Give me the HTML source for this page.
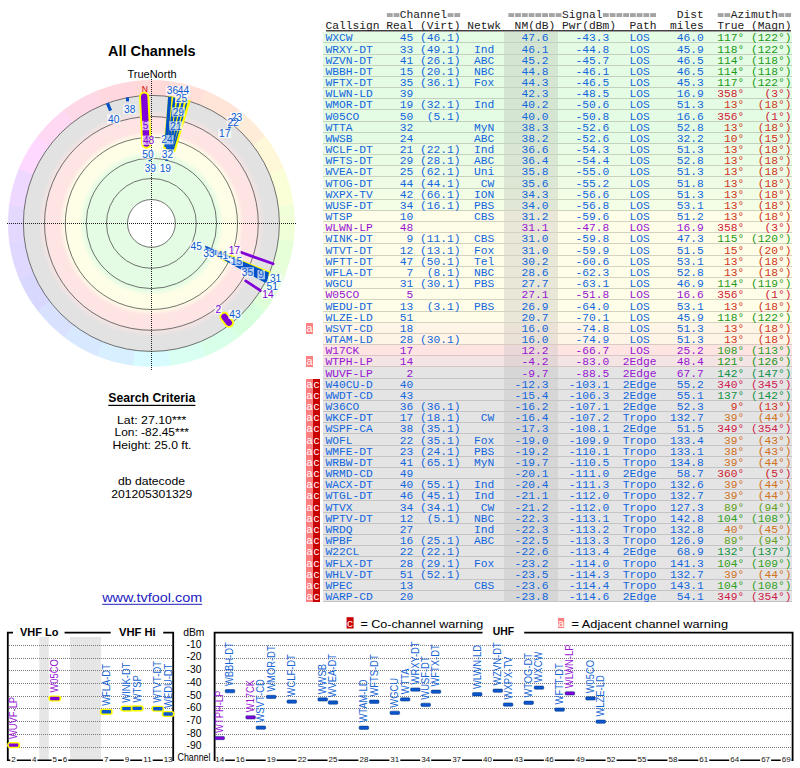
<!DOCTYPE html>
<html><head><meta charset="utf-8"><style>
html,body{margin:0;padding:0;background:#fff;width:800px;height:768px;overflow:hidden}
svg{position:absolute;left:0;top:0}
</style></head><body>
<svg width="800" height="768" viewBox="0 0 800 768">
<path d="M151.4,223.4 L132.71,81.43 A143.2,143.2 0 0 1 170.09,81.43 Z" fill="#ffd8d8" stroke="#ffd8d8" stroke-width="0.6"/>
<path d="M151.4,223.4 L170.09,81.43 A143.2,143.2 0 0 1 206.20,91.10 Z" fill="#ffdfd8" stroke="#ffdfd8" stroke-width="0.6"/>
<path d="M151.4,223.4 L206.20,91.10 A143.2,143.2 0 0 1 238.57,109.79 Z" fill="#ffe5d8" stroke="#ffe5d8" stroke-width="0.6"/>
<path d="M151.4,223.4 L238.57,109.79 A143.2,143.2 0 0 1 265.01,136.23 Z" fill="#ffecd8" stroke="#ffecd8" stroke-width="0.6"/>
<path d="M151.4,223.4 L265.01,136.23 A143.2,143.2 0 0 1 283.70,168.60 Z" fill="#fff8d8" stroke="#fff8d8" stroke-width="0.6"/>
<path d="M151.4,223.4 L283.70,168.60 A143.2,143.2 0 0 1 293.37,204.71 Z" fill="#faffd8" stroke="#faffd8" stroke-width="0.6"/>
<path d="M151.4,223.4 L293.37,204.71 A143.2,143.2 0 0 1 293.37,242.09 Z" fill="#f0ffd8" stroke="#f0ffd8" stroke-width="0.6"/>
<path d="M151.4,223.4 L293.37,242.09 A143.2,143.2 0 0 1 283.70,278.20 Z" fill="#e6ffd8" stroke="#e6ffd8" stroke-width="0.6"/>
<path d="M151.4,223.4 L283.70,278.20 A143.2,143.2 0 0 1 265.01,310.57 Z" fill="#dfffd8" stroke="#dfffd8" stroke-width="0.6"/>
<path d="M151.4,223.4 L265.01,310.57 A143.2,143.2 0 0 1 238.57,337.01 Z" fill="#d8ffdd" stroke="#d8ffdd" stroke-width="0.6"/>
<path d="M151.4,223.4 L238.57,337.01 A143.2,143.2 0 0 1 206.20,355.70 Z" fill="#d8ffe7" stroke="#d8ffe7" stroke-width="0.6"/>
<path d="M151.4,223.4 L206.20,355.70 A143.2,143.2 0 0 1 170.09,365.37 Z" fill="#d8fff2" stroke="#d8fff2" stroke-width="0.6"/>
<path d="M151.4,223.4 L170.09,365.37 A143.2,143.2 0 0 1 132.71,365.37 Z" fill="#d8fbff" stroke="#d8fbff" stroke-width="0.6"/>
<path d="M151.4,223.4 L132.71,365.37 A143.2,143.2 0 0 1 96.60,355.70 Z" fill="#d8efff" stroke="#d8efff" stroke-width="0.6"/>
<path d="M151.4,223.4 L96.60,355.70 A143.2,143.2 0 0 1 64.23,337.01 Z" fill="#d8e8ff" stroke="#d8e8ff" stroke-width="0.6"/>
<path d="M151.4,223.4 L64.23,337.01 A143.2,143.2 0 0 1 37.79,310.57 Z" fill="#d8e2ff" stroke="#d8e2ff" stroke-width="0.6"/>
<path d="M151.4,223.4 L37.79,310.57 A143.2,143.2 0 0 1 19.10,278.20 Z" fill="#d8d8ff" stroke="#d8d8ff" stroke-width="0.6"/>
<path d="M151.4,223.4 L19.10,278.20 A143.2,143.2 0 0 1 9.43,242.09 Z" fill="#e0d8ff" stroke="#e0d8ff" stroke-width="0.6"/>
<path d="M151.4,223.4 L9.43,242.09 A143.2,143.2 0 0 1 9.43,204.71 Z" fill="#e5d8ff" stroke="#e5d8ff" stroke-width="0.6"/>
<path d="M151.4,223.4 L9.43,204.71 A143.2,143.2 0 0 1 19.10,168.60 Z" fill="#efd8ff" stroke="#efd8ff" stroke-width="0.6"/>
<path d="M151.4,223.4 L19.10,168.60 A143.2,143.2 0 0 1 37.79,136.23 Z" fill="#ffd8ff" stroke="#ffd8ff" stroke-width="0.6"/>
<path d="M151.4,223.4 L37.79,136.23 A143.2,143.2 0 0 1 64.23,109.79 Z" fill="#ffd8f3" stroke="#ffd8f3" stroke-width="0.6"/>
<path d="M151.4,223.4 L64.23,109.79 A143.2,143.2 0 0 1 96.60,91.10 Z" fill="#ffd8e8" stroke="#ffd8e8" stroke-width="0.6"/>
<path d="M151.4,223.4 L96.60,91.10 A143.2,143.2 0 0 1 132.71,81.43 Z" fill="#ffd8df" stroke="#ffd8df" stroke-width="0.6"/>
<defs><radialGradient id="bands" cx="151.4" cy="223.4" r="128" gradientUnits="userSpaceOnUse">
<stop offset="0" stop-color="#e4fce4"/>
<stop offset="0.52" stop-color="#e4fce4"/>
<stop offset="0.565" stop-color="#fefee6"/>
<stop offset="0.67" stop-color="#fefee6"/>
<stop offset="0.72" stop-color="#ffe4e4"/>
<stop offset="0.815" stop-color="#ffe4e4"/>
<stop offset="0.885" stop-color="#e2e2e2"/>
<stop offset="1" stop-color="#e2e2e2"/>
</radialGradient></defs>
<circle cx="151.4" cy="223.4" r="128.0" fill="url(#bands)"/>
<circle cx="151.4" cy="223.4" r="23.9" fill="#ffffff"/>
<circle cx="151.4" cy="223.4" r="23.9" fill="none" stroke="#505050" stroke-width="0.8"/>
<circle cx="151.4" cy="223.4" r="44.9" fill="none" stroke="#505050" stroke-width="0.8"/>
<circle cx="151.4" cy="223.4" r="65.2" fill="none" stroke="#505050" stroke-width="0.8"/>
<circle cx="151.4" cy="223.4" r="86.1" fill="none" stroke="#505050" stroke-width="0.8"/>
<circle cx="151.4" cy="223.4" r="106.9" fill="none" stroke="#505050" stroke-width="0.8"/>
<circle cx="151.4" cy="223.4" r="128.0" fill="none" stroke="#505050" stroke-width="0.8"/>
<line x1="7" y1="223.5" x2="297" y2="223.5" stroke="#202020" stroke-width="1" stroke-dasharray="1,1"/>
<line x1="151.5" y1="79" x2="151.5" y2="370" stroke="#202020" stroke-width="1" stroke-dasharray="1,1"/>
<line x1="144.2" y1="96.8" x2="146.4" y2="143.6" stroke="#ffff00" stroke-width="10.2" stroke-linecap="round"/>
<line x1="144.2" y1="96.8" x2="146.4" y2="143.6" stroke="#8000d8" stroke-width="6.4" stroke-linecap="round"/>
<polygon points="168.2,95.8 190.8,100.2 175.2,152.2 163.2,148.2" fill="#ffff00"/>
<line x1="169.8" y1="96.6" x2="166.0" y2="147.0" stroke="#0050c8" stroke-width="3.4"/>
<line x1="174.6" y1="97.5" x2="168.0" y2="148.5" stroke="#0050c8" stroke-width="2.6"/>
<line x1="179.0" y1="98.5" x2="169.8" y2="149.3" stroke="#0050c8" stroke-width="2.4"/>
<line x1="183.4" y1="99.4" x2="171.4" y2="150.2" stroke="#0050c8" stroke-width="2.2"/>
<line x1="187.4" y1="100.2" x2="172.8" y2="151.0" stroke="#0050c8" stroke-width="1.4"/>
<circle cx="168.6" cy="146.8" r="3" fill="#0a5ad2"/>
<line x1="107.4" y1="103.2" x2="110.6" y2="110.6" stroke="#0050c8" stroke-width="3.2"/>
<line x1="127.5" y1="97.4" x2="127.5" y2="101.4" stroke="#0050c8" stroke-width="3"/>
<line x1="229.4" y1="126.6" x2="229.6" y2="128.4" stroke="#0050c8" stroke-width="2.4"/>
<line x1="149.6" y1="159.8" x2="150" y2="161.2" stroke="#0050c8" stroke-width="2.4"/>
<line x1="166.6" y1="159.5" x2="166.6" y2="161" stroke="#0050c8" stroke-width="2.4"/>
<line x1="219.6" y1="254.6" x2="238" y2="262.2" stroke="#ffff00" stroke-width="8.4" stroke-linecap="round"/>
<polygon points="232,256.2 270.4,271.6 269.6,276 233,260" fill="#ffff00"/>
<polygon points="205,245.6 269,272.6 266.6,283.6 230,263.6 206,249.4" fill="#0050c8"/>
<line x1="218.6" y1="255.2" x2="232" y2="260.6" stroke="#e8f0f8" stroke-width="3.2" stroke-linecap="round"/>
<line x1="240.9" y1="252.3" x2="273.1" y2="263.7" stroke="#8000d8" stroke-width="2.8" stroke-linecap="round"/>
<line x1="245.7" y1="280.9" x2="260.7" y2="290.7" stroke="#8000d8" stroke-width="2.8" stroke-linecap="round"/>
<line x1="224.4" y1="316.8" x2="229.0" y2="322.8" stroke="#ffff00" stroke-width="10" stroke-linecap="round"/>
<line x1="224.4" y1="316.8" x2="229.0" y2="322.8" stroke="#8000d8" stroke-width="6.2" stroke-linecap="round"/>
<rect x="107.13" y="114.50" width="13.14" height="9.3" fill="#ffffff" fill-opacity="0.7"/>
<rect x="123.13" y="104.50" width="13.14" height="9.3" fill="#ffffff" fill-opacity="0.7"/>
<rect x="141.96" y="120.90" width="7.47" height="9.3" fill="#ffffff" fill-opacity="0.7"/>
<rect x="142.03" y="135.60" width="13.14" height="9.3" fill="#ffffff" fill-opacity="0.7"/>
<rect x="141.43" y="149.40" width="13.14" height="9.3" fill="#ffffff" fill-opacity="0.7"/>
<rect x="143.73" y="163.70" width="13.14" height="9.3" fill="#ffffff" fill-opacity="0.7"/>
<rect x="158.73" y="163.70" width="13.14" height="9.3" fill="#ffffff" fill-opacity="0.7"/>
<rect x="160.93" y="149.40" width="13.14" height="9.3" fill="#ffffff" fill-opacity="0.7"/>
<rect x="160.33" y="135.10" width="13.14" height="9.3" fill="#ffffff" fill-opacity="0.7"/>
<rect x="169.43" y="121.30" width="13.14" height="9.3" fill="#ffffff" fill-opacity="0.7"/>
<rect x="171.73" y="107.30" width="13.14" height="9.3" fill="#ffffff" fill-opacity="0.7"/>
<rect x="165.93" y="85.90" width="13.14" height="9.3" fill="#ffffff" fill-opacity="0.7"/>
<rect x="176.93" y="85.90" width="13.14" height="9.3" fill="#ffffff" fill-opacity="0.7"/>
<rect x="174.93" y="93.80" width="13.14" height="9.3" fill="#ffffff" fill-opacity="0.7"/>
<rect x="230.03" y="112.20" width="13.14" height="9.3" fill="#ffffff" fill-opacity="0.7"/>
<rect x="226.53" y="117.20" width="13.14" height="9.3" fill="#ffffff" fill-opacity="0.7"/>
<rect x="218.13" y="128.70" width="13.14" height="9.3" fill="#ffffff" fill-opacity="0.7"/>
<rect x="189.63" y="241.50" width="13.14" height="9.3" fill="#ffffff" fill-opacity="0.7"/>
<rect x="202.33" y="248.70" width="13.14" height="9.3" fill="#ffffff" fill-opacity="0.7"/>
<rect x="216.03" y="250.70" width="13.14" height="9.3" fill="#ffffff" fill-opacity="0.7"/>
<rect x="229.83" y="256.70" width="13.14" height="9.3" fill="#ffffff" fill-opacity="0.7"/>
<rect x="240.83" y="267.30" width="13.14" height="9.3" fill="#ffffff" fill-opacity="0.7"/>
<rect x="257.47" y="270.00" width="7.47" height="9.3" fill="#ffffff" fill-opacity="0.7"/>
<rect x="269.03" y="274.10" width="13.14" height="9.3" fill="#ffffff" fill-opacity="0.7"/>
<rect x="265.63" y="281.70" width="13.14" height="9.3" fill="#ffffff" fill-opacity="0.7"/>
<rect x="261.43" y="289.30" width="13.14" height="9.3" fill="#ffffff" fill-opacity="0.7"/>
<rect x="227.73" y="245.90" width="13.14" height="9.3" fill="#ffffff" fill-opacity="0.7"/>
<rect x="214.66" y="305.00" width="7.47" height="9.3" fill="#ffffff" fill-opacity="0.7"/>
<rect x="228.43" y="309.80" width="13.14" height="9.3" fill="#ffffff" fill-opacity="0.7"/>
<g font-family="Liberation Sans, sans-serif" font-size="10.2" text-anchor="middle"><text x="113.7" y="122.8" fill="#0a5ad2">40</text><text x="129.7" y="112.8" fill="#0a5ad2">38</text><text x="145.7" y="129.2" fill="#8000d8">5</text><text x="148.6" y="143.9" fill="#8000d8">48</text><text x="148.0" y="157.7" fill="#0a5ad2">50</text><text x="150.3" y="172.0" fill="#0a5ad2">39</text><text x="165.3" y="172.0" fill="#0a5ad2">19</text><text x="167.5" y="157.7" fill="#0a5ad2">32</text><text x="166.9" y="143.4" fill="#0a5ad2">24</text><text x="176.0" y="129.6" fill="#0a5ad2">21</text><text x="178.3" y="115.6" fill="#0a5ad2">29</text><text x="172.5" y="94.2" fill="#0a5ad2">36</text><text x="183.5" y="94.2" fill="#0a5ad2">44</text><text x="181.5" y="102.1" fill="#0a5ad2">25</text><text x="236.6" y="120.5" fill="#0a5ad2">23</text><text x="233.1" y="125.5" fill="#0a5ad2">22</text><text x="224.7" y="137.0" fill="#0a5ad2">17</text><text x="196.2" y="249.8" fill="#0a5ad2">45</text><text x="208.9" y="257.0" fill="#0a5ad2">33</text><text x="222.6" y="259.0" fill="#0a5ad2">41</text><text x="236.4" y="265.0" fill="#0a5ad2">15</text><text x="247.4" y="275.6" fill="#0a5ad2">35</text><text x="261.2" y="278.3" fill="#0a5ad2">9</text><text x="275.6" y="282.4" fill="#0a5ad2">31</text><text x="272.2" y="290.0" fill="#0a5ad2">51</text><text x="268.0" y="297.6" fill="#8000d8">14</text><text x="234.3" y="254.2" fill="#8000d8">17</text><text x="218.4" y="313.3" fill="#8000d8">2</text><text x="235.0" y="318.1" fill="#0a5ad2">43</text></g>
<text x="144.7" y="92.4" fill="#d00000" font-family="Liberation Sans, sans-serif" font-size="8.5" text-anchor="middle">N</text>
<text x="151.8" y="55.5" font-family="Liberation Sans, sans-serif" font-weight="bold" font-size="14" text-anchor="middle" fill="#000" textLength="87.7" lengthAdjust="spacingAndGlyphs">All Channels</text>
<text x="152" y="77.7" font-family="Liberation Sans, sans-serif" font-size="10.5" text-anchor="middle" fill="#000" textLength="49.2" lengthAdjust="spacingAndGlyphs">TrueNorth</text>
<g font-family="Liberation Sans, sans-serif" text-anchor="middle" fill="#000">
<text x="151.75" y="402" font-weight="bold" font-size="12" textLength="86.9" lengthAdjust="spacingAndGlyphs">Search Criteria</text>
<rect x="108.3" y="404.8" width="87" height="1.2" fill="#000"/>
<text x="151.7" y="423.5" font-size="11.2" textLength="69.4" lengthAdjust="spacingAndGlyphs">Lat: 27.10***</text>
<text x="151.75" y="436.2" font-size="11.2" textLength="74.5" lengthAdjust="spacingAndGlyphs">Lon: -82.45***</text>
<text x="152" y="448.6" font-size="11.2" textLength="79" lengthAdjust="spacingAndGlyphs">Height: 25.0 ft.</text>
<text x="151.5" y="485" font-size="11.2" textLength="67" lengthAdjust="spacingAndGlyphs">db datecode</text>
<text x="151.8" y="497.6" font-size="11.2" textLength="81.2" lengthAdjust="spacingAndGlyphs">201205301329</text>
</g>
<text x="152.2" y="602" font-family="Liberation Sans, sans-serif" font-size="12.5" text-anchor="middle" fill="#2222c0" textLength="100" lengthAdjust="spacingAndGlyphs">www.tvfool.com</text>
<rect x="102.2" y="603.8" width="100" height="1" fill="#2222c0"/>
<rect x="323" y="32" width="469" height="10" fill="#e4fce4"/>
<rect x="504" y="32" width="54" height="10" fill="#d4e6d2"/>
<rect x="323" y="42" width="469" height="1" fill="#c2d2be"/>
<rect x="323" y="43" width="469" height="11" fill="#e4fce4"/>
<rect x="504" y="43" width="54" height="11" fill="#d4e6d2"/>
<rect x="323" y="54" width="469" height="1" fill="#c2d2be"/>
<rect x="323" y="55" width="469" height="10" fill="#e4fce4"/>
<rect x="504" y="55" width="54" height="10" fill="#d4e6d2"/>
<rect x="323" y="65" width="469" height="1" fill="#c2d2be"/>
<rect x="323" y="66" width="469" height="10" fill="#e4fce4"/>
<rect x="504" y="66" width="54" height="10" fill="#d4e6d2"/>
<rect x="323" y="76" width="469" height="1" fill="#c2d2be"/>
<rect x="323" y="77" width="469" height="10" fill="#e4fce4"/>
<rect x="504" y="77" width="54" height="10" fill="#d4e6d2"/>
<rect x="323" y="87" width="469" height="1" fill="#c2d2be"/>
<rect x="323" y="88" width="469" height="10" fill="#e4fce4"/>
<rect x="504" y="88" width="54" height="10" fill="#d4e6d2"/>
<rect x="323" y="98" width="469" height="1" fill="#c2d2be"/>
<rect x="323" y="99" width="469" height="10" fill="#e4fce4"/>
<rect x="504" y="99" width="54" height="10" fill="#d4e6d2"/>
<rect x="323" y="109" width="469" height="1" fill="#c2d2be"/>
<rect x="323" y="110" width="469" height="11" fill="#e4fce4"/>
<rect x="504" y="110" width="54" height="11" fill="#d4e6d2"/>
<rect x="323" y="121" width="469" height="1" fill="#c2d2be"/>
<rect x="323" y="122" width="469" height="10" fill="#e4fce4"/>
<rect x="504" y="122" width="54" height="10" fill="#d4e6d2"/>
<rect x="323" y="132" width="469" height="1" fill="#c2d2be"/>
<rect x="323" y="133" width="469" height="10" fill="#e4fce4"/>
<rect x="504" y="133" width="54" height="10" fill="#d4e6d2"/>
<rect x="323" y="143" width="469" height="1" fill="#c2d2be"/>
<rect x="323" y="144" width="469" height="10" fill="#eafce5"/>
<rect x="504" y="144" width="54" height="10" fill="#d9e6d3"/>
<rect x="323" y="154" width="469" height="1" fill="#c6d2be"/>
<rect x="323" y="155" width="469" height="10" fill="#ebfce5"/>
<rect x="504" y="155" width="54" height="10" fill="#d9e6d4"/>
<rect x="323" y="165" width="469" height="1" fill="#c7d2bf"/>
<rect x="323" y="166" width="469" height="10" fill="#edfce5"/>
<rect x="504" y="166" width="54" height="10" fill="#dbe6d4"/>
<rect x="323" y="176" width="469" height="1" fill="#c8d2bf"/>
<rect x="323" y="177" width="469" height="11" fill="#eefce5"/>
<rect x="504" y="177" width="54" height="11" fill="#dbe6d4"/>
<rect x="323" y="188" width="469" height="1" fill="#c9d2bf"/>
<rect x="323" y="189" width="469" height="10" fill="#f2fde6"/>
<rect x="504" y="189" width="54" height="10" fill="#dfe7d5"/>
<rect x="323" y="199" width="469" height="1" fill="#ccd2bf"/>
<rect x="323" y="200" width="469" height="10" fill="#f4fde6"/>
<rect x="504" y="200" width="54" height="10" fill="#e0e7d6"/>
<rect x="323" y="210" width="469" height="1" fill="#cdd2bf"/>
<rect x="323" y="211" width="469" height="10" fill="#fefde8"/>
<rect x="504" y="211" width="54" height="10" fill="#e8e7d8"/>
<rect x="323" y="221" width="469" height="1" fill="#d4d2c0"/>
<rect x="323" y="222" width="469" height="10" fill="#fefde8"/>
<rect x="504" y="222" width="54" height="10" fill="#e8e7d8"/>
<rect x="323" y="232" width="469" height="1" fill="#d4d2c0"/>
<rect x="323" y="233" width="469" height="10" fill="#fefde8"/>
<rect x="504" y="233" width="54" height="10" fill="#e8e7d8"/>
<rect x="323" y="243" width="469" height="1" fill="#d4d2c0"/>
<rect x="323" y="244" width="469" height="11" fill="#fefde8"/>
<rect x="504" y="244" width="54" height="11" fill="#e8e7d8"/>
<rect x="323" y="255" width="469" height="1" fill="#d4d2c0"/>
<rect x="323" y="256" width="469" height="10" fill="#fefde8"/>
<rect x="504" y="256" width="54" height="10" fill="#e8e7d8"/>
<rect x="323" y="266" width="469" height="1" fill="#d4d2c0"/>
<rect x="323" y="267" width="469" height="10" fill="#fefde8"/>
<rect x="504" y="267" width="54" height="10" fill="#e8e7d8"/>
<rect x="323" y="277" width="469" height="1" fill="#d4d2c0"/>
<rect x="323" y="278" width="469" height="10" fill="#fefde8"/>
<rect x="504" y="278" width="54" height="10" fill="#e8e7d8"/>
<rect x="323" y="288" width="469" height="1" fill="#d4d2c0"/>
<rect x="323" y="289" width="469" height="10" fill="#fefde8"/>
<rect x="504" y="289" width="54" height="10" fill="#e8e7d8"/>
<rect x="323" y="299" width="469" height="1" fill="#d4d2c0"/>
<rect x="323" y="300" width="469" height="11" fill="#fefde8"/>
<rect x="504" y="300" width="54" height="11" fill="#e8e7d8"/>
<rect x="323" y="311" width="469" height="1" fill="#d4d2c0"/>
<rect x="323" y="312" width="469" height="10" fill="#fefde8"/>
<rect x="504" y="312" width="54" height="10" fill="#e8e7d8"/>
<rect x="323" y="322" width="469" height="1" fill="#d4d2c0"/>
<rect x="323" y="323" width="469" height="10" fill="#fff5e6"/>
<rect x="504" y="323" width="54" height="10" fill="#eae2d6"/>
<rect x="323" y="333" width="469" height="1" fill="#d8ccc0"/>
<rect x="306" y="323" width="7" height="11" fill="#ff8080"/>
<rect x="323" y="334" width="469" height="10" fill="#fff5e6"/>
<rect x="504" y="334" width="54" height="10" fill="#eae2d6"/>
<rect x="323" y="344" width="469" height="1" fill="#d8ccc0"/>
<rect x="323" y="345" width="469" height="10" fill="#ffe4e4"/>
<rect x="504" y="345" width="54" height="10" fill="#ead8d8"/>
<rect x="323" y="355" width="469" height="1" fill="#d8c4c4"/>
<rect x="323" y="356" width="469" height="10" fill="#f4e4e4"/>
<rect x="504" y="356" width="54" height="10" fill="#e2d6d6"/>
<rect x="323" y="366" width="469" height="1" fill="#d4c4c4"/>
<rect x="306" y="356" width="7" height="11" fill="#ff8080"/>
<rect x="323" y="367" width="469" height="11" fill="#e4e4e4"/>
<rect x="504" y="367" width="54" height="11" fill="#d6d6d6"/>
<rect x="323" y="378" width="469" height="1" fill="#c4c4c4"/>
<rect x="323" y="379" width="469" height="10" fill="#e4e4e4"/>
<rect x="504" y="379" width="54" height="10" fill="#d6d6d6"/>
<rect x="323" y="389" width="469" height="1" fill="#c4c4c4"/>
<rect x="306" y="379" width="7" height="11" fill="#ff8080"/>
<rect x="313" y="379" width="7" height="11" fill="#c80000"/>
<rect x="323" y="390" width="469" height="10" fill="#e4e4e4"/>
<rect x="504" y="390" width="54" height="10" fill="#d6d6d6"/>
<rect x="323" y="400" width="469" height="1" fill="#c4c4c4"/>
<rect x="306" y="390" width="7" height="11" fill="#ff8080"/>
<rect x="313" y="390" width="7" height="11" fill="#c80000"/>
<rect x="323" y="401" width="469" height="10" fill="#e4e4e4"/>
<rect x="504" y="401" width="54" height="10" fill="#d6d6d6"/>
<rect x="323" y="411" width="469" height="1" fill="#c4c4c4"/>
<rect x="306" y="401" width="7" height="11" fill="#ff8080"/>
<rect x="313" y="401" width="7" height="11" fill="#c80000"/>
<rect x="323" y="412" width="469" height="10" fill="#e4e4e4"/>
<rect x="504" y="412" width="54" height="10" fill="#d6d6d6"/>
<rect x="323" y="422" width="469" height="1" fill="#c4c4c4"/>
<rect x="306" y="412" width="7" height="11" fill="#ff8080"/>
<rect x="313" y="412" width="7" height="11" fill="#c80000"/>
<rect x="323" y="423" width="469" height="10" fill="#e4e4e4"/>
<rect x="504" y="423" width="54" height="10" fill="#d6d6d6"/>
<rect x="323" y="433" width="469" height="1" fill="#c4c4c4"/>
<rect x="306" y="423" width="7" height="11" fill="#ff8080"/>
<rect x="313" y="423" width="7" height="11" fill="#c80000"/>
<rect x="323" y="434" width="469" height="11" fill="#e4e4e4"/>
<rect x="504" y="434" width="54" height="11" fill="#d6d6d6"/>
<rect x="323" y="445" width="469" height="1" fill="#c4c4c4"/>
<rect x="306" y="434" width="7" height="12" fill="#ff8080"/>
<rect x="313" y="434" width="7" height="12" fill="#c80000"/>
<rect x="323" y="446" width="469" height="10" fill="#e4e4e4"/>
<rect x="504" y="446" width="54" height="10" fill="#d6d6d6"/>
<rect x="323" y="456" width="469" height="1" fill="#c4c4c4"/>
<rect x="306" y="446" width="7" height="11" fill="#ff8080"/>
<rect x="313" y="446" width="7" height="11" fill="#c80000"/>
<rect x="323" y="457" width="469" height="10" fill="#e4e4e4"/>
<rect x="504" y="457" width="54" height="10" fill="#d6d6d6"/>
<rect x="323" y="467" width="469" height="1" fill="#c4c4c4"/>
<rect x="306" y="457" width="7" height="11" fill="#ff8080"/>
<rect x="313" y="457" width="7" height="11" fill="#c80000"/>
<rect x="323" y="468" width="469" height="10" fill="#e4e4e4"/>
<rect x="504" y="468" width="54" height="10" fill="#d6d6d6"/>
<rect x="323" y="478" width="469" height="1" fill="#c4c4c4"/>
<rect x="306" y="468" width="7" height="11" fill="#ff8080"/>
<rect x="313" y="468" width="7" height="11" fill="#c80000"/>
<rect x="323" y="479" width="469" height="10" fill="#e4e4e4"/>
<rect x="504" y="479" width="54" height="10" fill="#d6d6d6"/>
<rect x="323" y="489" width="469" height="1" fill="#c4c4c4"/>
<rect x="306" y="479" width="7" height="11" fill="#ff8080"/>
<rect x="313" y="479" width="7" height="11" fill="#c80000"/>
<rect x="323" y="490" width="469" height="10" fill="#e4e4e4"/>
<rect x="504" y="490" width="54" height="10" fill="#d6d6d6"/>
<rect x="323" y="500" width="469" height="1" fill="#c4c4c4"/>
<rect x="306" y="490" width="7" height="11" fill="#ff8080"/>
<rect x="313" y="490" width="7" height="11" fill="#c80000"/>
<rect x="323" y="501" width="469" height="11" fill="#e4e4e4"/>
<rect x="504" y="501" width="54" height="11" fill="#d6d6d6"/>
<rect x="323" y="512" width="469" height="1" fill="#c4c4c4"/>
<rect x="306" y="501" width="7" height="12" fill="#ff8080"/>
<rect x="313" y="501" width="7" height="12" fill="#c80000"/>
<rect x="323" y="513" width="469" height="10" fill="#e4e4e4"/>
<rect x="504" y="513" width="54" height="10" fill="#d6d6d6"/>
<rect x="323" y="523" width="469" height="1" fill="#c4c4c4"/>
<rect x="306" y="513" width="7" height="11" fill="#ff8080"/>
<rect x="313" y="513" width="7" height="11" fill="#c80000"/>
<rect x="323" y="524" width="469" height="10" fill="#e4e4e4"/>
<rect x="504" y="524" width="54" height="10" fill="#d6d6d6"/>
<rect x="323" y="534" width="469" height="1" fill="#c4c4c4"/>
<rect x="306" y="524" width="7" height="11" fill="#ff8080"/>
<rect x="313" y="524" width="7" height="11" fill="#c80000"/>
<rect x="323" y="535" width="469" height="10" fill="#e4e4e4"/>
<rect x="504" y="535" width="54" height="10" fill="#d6d6d6"/>
<rect x="323" y="545" width="469" height="1" fill="#c4c4c4"/>
<rect x="306" y="535" width="7" height="11" fill="#ff8080"/>
<rect x="313" y="535" width="7" height="11" fill="#c80000"/>
<rect x="323" y="546" width="469" height="10" fill="#e4e4e4"/>
<rect x="504" y="546" width="54" height="10" fill="#d6d6d6"/>
<rect x="323" y="556" width="469" height="1" fill="#c4c4c4"/>
<rect x="306" y="546" width="7" height="11" fill="#ff8080"/>
<rect x="313" y="546" width="7" height="11" fill="#c80000"/>
<rect x="323" y="557" width="469" height="11" fill="#e4e4e4"/>
<rect x="504" y="557" width="54" height="11" fill="#d6d6d6"/>
<rect x="323" y="568" width="469" height="1" fill="#c4c4c4"/>
<rect x="306" y="557" width="7" height="12" fill="#ff8080"/>
<rect x="313" y="557" width="7" height="12" fill="#c80000"/>
<rect x="323" y="569" width="469" height="10" fill="#e4e4e4"/>
<rect x="504" y="569" width="54" height="10" fill="#d6d6d6"/>
<rect x="323" y="579" width="469" height="1" fill="#c4c4c4"/>
<rect x="306" y="569" width="7" height="11" fill="#ff8080"/>
<rect x="313" y="569" width="7" height="11" fill="#c80000"/>
<rect x="323" y="580" width="469" height="10" fill="#e4e4e4"/>
<rect x="504" y="580" width="54" height="10" fill="#d6d6d6"/>
<rect x="323" y="590" width="469" height="1" fill="#c4c4c4"/>
<rect x="306" y="580" width="7" height="11" fill="#ff8080"/>
<rect x="313" y="580" width="7" height="11" fill="#c80000"/>
<rect x="323" y="591" width="469" height="10" fill="#e4e4e4"/>
<rect x="504" y="591" width="54" height="10" fill="#d6d6d6"/>
<rect x="323" y="601" width="469" height="1" fill="#c4c4c4"/>
<rect x="306" y="591" width="7" height="11" fill="#ff8080"/>
<rect x="313" y="591" width="7" height="11" fill="#c80000"/>
<rect x="386.87" y="13.1" width="5.8" height="3.9" fill="#a4a4a4"/>
<rect x="393.62" y="13.1" width="5.8" height="3.9" fill="#a4a4a4"/>
<rect x="447.64" y="13.1" width="5.8" height="3.9" fill="#a4a4a4"/>
<rect x="454.39" y="13.1" width="5.8" height="3.9" fill="#a4a4a4"/>
<rect x="508.40" y="13.1" width="5.8" height="3.9" fill="#a4a4a4"/>
<rect x="515.16" y="13.1" width="5.8" height="3.9" fill="#a4a4a4"/>
<rect x="521.91" y="13.1" width="5.8" height="3.9" fill="#a4a4a4"/>
<rect x="528.66" y="13.1" width="5.8" height="3.9" fill="#a4a4a4"/>
<rect x="535.41" y="13.1" width="5.8" height="3.9" fill="#a4a4a4"/>
<rect x="542.16" y="13.1" width="5.8" height="3.9" fill="#a4a4a4"/>
<rect x="548.92" y="13.1" width="5.8" height="3.9" fill="#a4a4a4"/>
<rect x="555.67" y="13.1" width="5.8" height="3.9" fill="#a4a4a4"/>
<rect x="602.93" y="13.1" width="5.8" height="3.9" fill="#a4a4a4"/>
<rect x="609.68" y="13.1" width="5.8" height="3.9" fill="#a4a4a4"/>
<rect x="616.44" y="13.1" width="5.8" height="3.9" fill="#a4a4a4"/>
<rect x="623.19" y="13.1" width="5.8" height="3.9" fill="#a4a4a4"/>
<rect x="629.94" y="13.1" width="5.8" height="3.9" fill="#a4a4a4"/>
<rect x="636.69" y="13.1" width="5.8" height="3.9" fill="#a4a4a4"/>
<rect x="643.44" y="13.1" width="5.8" height="3.9" fill="#a4a4a4"/>
<rect x="650.20" y="13.1" width="5.8" height="3.9" fill="#a4a4a4"/>
<rect x="717.72" y="13.1" width="5.8" height="3.9" fill="#a4a4a4"/>
<rect x="724.47" y="13.1" width="5.8" height="3.9" fill="#a4a4a4"/>
<rect x="778.48" y="13.1" width="5.8" height="3.9" fill="#a4a4a4"/>
<rect x="785.24" y="13.1" width="5.8" height="3.9" fill="#a4a4a4"/>
<rect x="326" y="30" width="465" height="1.5" fill="#404040"/>
<g font-family="Liberation Mono, monospace" font-size="11.25"><text x="399.87" y="18" fill="#202020">Channel</text><text x="561.92" y="18" fill="#202020">Signal</text><text x="730.72" y="18" fill="#202020">Azimuth</text><text x="676.70" y="18" fill="#202020">Dist</text><text x="325.60" y="29" fill="#202020" xml:space="preserve">Callsign Real (Virt) Netwk  NM(dB) Pwr(dBm)  Path  miles  True (Magn)</text><text x="325.60" y="41.00" fill="#1266dc" xml:space="preserve">WXCW       45 (46.1)         47.6    -43.3   LOS    46.0</text><text x="744.22" y="41.00" fill="#199818" text-anchor="end">117°</text><text x="791.49" y="41.00" fill="#199818" text-anchor="end">(122°)</text><text x="325.60" y="53.00" fill="#1266dc" xml:space="preserve">WRXY-DT    33 (49.1)  Ind    46.1    -44.8   LOS    45.9</text><text x="744.22" y="53.00" fill="#189818" text-anchor="end">118°</text><text x="791.49" y="53.00" fill="#189818" text-anchor="end">(122°)</text><text x="325.60" y="64.00" fill="#1266dc" xml:space="preserve">WZVN-DT    41 (26.1)  ABC    45.2    -45.7   LOS    46.5</text><text x="744.22" y="64.00" fill="#1e9a1a" text-anchor="end">114°</text><text x="791.49" y="64.00" fill="#1e9a1a" text-anchor="end">(118°)</text><text x="325.60" y="75.00" fill="#1266dc" xml:space="preserve">WBBH-DT    15 (20.1)  NBC    44.8    -46.1   LOS    46.5</text><text x="744.22" y="75.00" fill="#1e9a1a" text-anchor="end">114°</text><text x="791.49" y="75.00" fill="#1e9a1a" text-anchor="end">(118°)</text><text x="325.60" y="86.00" fill="#1266dc" xml:space="preserve">WFTX-DT    35 (36.1)  Fox    44.3    -46.5   LOS    45.3</text><text x="744.22" y="86.00" fill="#199818" text-anchor="end">117°</text><text x="791.49" y="86.00" fill="#199818" text-anchor="end">(122°)</text><text x="325.60" y="97.00" fill="#1266dc" xml:space="preserve">WLWN-LD    39                42.3    -48.5   LOS    16.9</text><text x="744.22" y="97.00" fill="#d02034" text-anchor="end">358°</text><text x="791.49" y="97.00" fill="#d02034" text-anchor="end">(3°)</text><text x="325.60" y="108.00" fill="#1266dc" xml:space="preserve">WMOR-DT    19 (32.1)  Ind    40.2    -50.6   LOS    51.3</text><text x="744.22" y="108.00" fill="#d03520" text-anchor="end">13°</text><text x="791.49" y="108.00" fill="#d03520" text-anchor="end">(18°)</text><text x="325.60" y="120.00" fill="#1266dc" xml:space="preserve">W05CO      50  (5.1)         40.0    -50.8   LOS    16.6</text><text x="744.22" y="120.00" fill="#d02038" text-anchor="end">356°</text><text x="791.49" y="120.00" fill="#d02038" text-anchor="end">(1°)</text><text x="325.60" y="131.00" fill="#1266dc" xml:space="preserve">WTTA       32         MyN    38.3    -52.6   LOS    52.8</text><text x="744.22" y="131.00" fill="#d03520" text-anchor="end">13°</text><text x="791.49" y="131.00" fill="#d03520" text-anchor="end">(18°)</text><text x="325.60" y="142.00" fill="#1266dc" xml:space="preserve">WWSB       24         ABC    38.2    -52.6   LOS    32.2</text><text x="744.22" y="142.00" fill="#d03120" text-anchor="end">10°</text><text x="791.49" y="142.00" fill="#d03120" text-anchor="end">(15°)</text><text x="325.60" y="153.00" fill="#1266dc" xml:space="preserve">WCLF-DT    21 (22.1)  Ind    36.6    -54.3   LOS    51.3</text><text x="744.22" y="153.00" fill="#d03520" text-anchor="end">13°</text><text x="791.49" y="153.00" fill="#d03520" text-anchor="end">(18°)</text><text x="325.60" y="164.00" fill="#1266dc" xml:space="preserve">WFTS-DT    29 (28.1)  ABC    36.4    -54.4   LOS    52.8</text><text x="744.22" y="164.00" fill="#d03520" text-anchor="end">13°</text><text x="791.49" y="164.00" fill="#d03520" text-anchor="end">(18°)</text><text x="325.60" y="175.00" fill="#1266dc" xml:space="preserve">WVEA-DT    25 (62.1)  Uni    35.8    -55.0   LOS    51.3</text><text x="744.22" y="175.00" fill="#d03520" text-anchor="end">13°</text><text x="791.49" y="175.00" fill="#d03520" text-anchor="end">(18°)</text><text x="325.60" y="187.00" fill="#1266dc" xml:space="preserve">WTOG-DT    44 (44.1)   CW    35.6    -55.2   LOS    51.8</text><text x="744.22" y="187.00" fill="#d03520" text-anchor="end">13°</text><text x="791.49" y="187.00" fill="#d03520" text-anchor="end">(18°)</text><text x="325.60" y="198.00" fill="#1266dc" xml:space="preserve">WXPX-TV    42 (66.1)  ION    34.3    -56.6   LOS    51.3</text><text x="744.22" y="198.00" fill="#d03520" text-anchor="end">13°</text><text x="791.49" y="198.00" fill="#d03520" text-anchor="end">(18°)</text><text x="325.60" y="209.00" fill="#1266dc" xml:space="preserve">WUSF-DT    34 (16.1)  PBS    34.0    -56.8   LOS    53.1</text><text x="744.22" y="209.00" fill="#d03520" text-anchor="end">13°</text><text x="791.49" y="209.00" fill="#d03520" text-anchor="end">(18°)</text><text x="325.60" y="220.00" fill="#1266dc" xml:space="preserve">WTSP       10         CBS    31.2    -59.6   LOS    51.2</text><text x="744.22" y="220.00" fill="#d03520" text-anchor="end">13°</text><text x="791.49" y="220.00" fill="#d03520" text-anchor="end">(18°)</text><text x="325.60" y="231.00" fill="#9614d2" xml:space="preserve">WLWN-LP    48                31.1    -47.8   LOS    16.9</text><text x="744.22" y="231.00" fill="#d02034" text-anchor="end">358°</text><text x="791.49" y="231.00" fill="#d02034" text-anchor="end">(3°)</text><text x="325.60" y="242.00" fill="#1266dc" xml:space="preserve">WINK-DT     9 (11.1)  CBS    31.0    -59.8   LOS    47.3</text><text x="744.22" y="242.00" fill="#1d9919" text-anchor="end">115°</text><text x="791.49" y="242.00" fill="#1d9919" text-anchor="end">(120°)</text><text x="325.60" y="254.00" fill="#1266dc" xml:space="preserve">WTVT-DT    12 (13.1)  Fox    31.0    -59.9   LOS    51.5</text><text x="744.22" y="254.00" fill="#d03820" text-anchor="end">15°</text><text x="791.49" y="254.00" fill="#d03820" text-anchor="end">(20°)</text><text x="325.60" y="265.00" fill="#1266dc" xml:space="preserve">WFTT-DT    47 (50.1)  Tel    30.2    -60.6   LOS    53.1</text><text x="744.22" y="265.00" fill="#d03520" text-anchor="end">13°</text><text x="791.49" y="265.00" fill="#d03520" text-anchor="end">(18°)</text><text x="325.60" y="276.00" fill="#1266dc" xml:space="preserve">WFLA-DT     7  (8.1)  NBC    28.6    -62.3   LOS    52.8</text><text x="744.22" y="276.00" fill="#d03520" text-anchor="end">13°</text><text x="791.49" y="276.00" fill="#d03520" text-anchor="end">(18°)</text><text x="325.60" y="287.00" fill="#1266dc" xml:space="preserve">WGCU       31 (30.1)  PBS    27.7    -63.1   LOS    46.9</text><text x="744.22" y="287.00" fill="#1e9a1a" text-anchor="end">114°</text><text x="791.49" y="287.00" fill="#1e9a1a" text-anchor="end">(119°)</text><text x="325.60" y="298.00" fill="#9614d2" xml:space="preserve">W05CO       5                27.1    -51.8   LOS    16.6</text><text x="744.22" y="298.00" fill="#d02038" text-anchor="end">356°</text><text x="791.49" y="298.00" fill="#d02038" text-anchor="end">(1°)</text><text x="325.60" y="310.00" fill="#1266dc" xml:space="preserve">WEDU-DT    13  (3.1)  PBS    26.9    -64.0   LOS    53.1</text><text x="744.22" y="310.00" fill="#d03520" text-anchor="end">13°</text><text x="791.49" y="310.00" fill="#d03520" text-anchor="end">(18°)</text><text x="325.60" y="321.00" fill="#1266dc" xml:space="preserve">WLZE-LD    51                20.7    -70.1   LOS    45.9</text><text x="744.22" y="321.00" fill="#189818" text-anchor="end">118°</text><text x="791.49" y="321.00" fill="#189818" text-anchor="end">(122°)</text><text x="325.60" y="332.00" fill="#1266dc" xml:space="preserve">WSVT-CD    18                16.0    -74.8   LOS    51.3</text><text x="744.22" y="332.00" fill="#d03520" text-anchor="end">13°</text><text x="791.49" y="332.00" fill="#d03520" text-anchor="end">(18°)</text><text x="309.5" y="332.00" fill="#ffffff" text-anchor="middle" font-size="11">a</text><text x="325.60" y="343.00" fill="#1266dc" xml:space="preserve">WTAM-LD    28 (30.1)         16.0    -74.9   LOS    51.3</text><text x="744.22" y="343.00" fill="#d03520" text-anchor="end">13°</text><text x="791.49" y="343.00" fill="#d03520" text-anchor="end">(18°)</text><text x="325.60" y="354.00" fill="#9614d2" xml:space="preserve">W17CK      17                12.2    -66.7   LOS    25.2</text><text x="744.22" y="354.00" fill="#299d1d" text-anchor="end">108°</text><text x="791.49" y="354.00" fill="#299d1d" text-anchor="end">(113°)</text><text x="325.60" y="365.00" fill="#9614d2" xml:space="preserve">WTPH-LP    14                -4.2    -83.0  2Edge   48.4</text><text x="744.22" y="365.00" fill="#169620" text-anchor="end">121°</text><text x="791.49" y="365.00" fill="#169620" text-anchor="end">(126°)</text><text x="309.5" y="365.00" fill="#ffffff" text-anchor="middle" font-size="11">a</text><text x="325.60" y="377.00" fill="#9614d2" xml:space="preserve">WUVF-LP     2                -9.7    -88.5  2Edge   67.7</text><text x="744.22" y="377.00" fill="#109048" text-anchor="end">142°</text><text x="791.49" y="377.00" fill="#109048" text-anchor="end">(147°)</text><text x="325.60" y="388.00" fill="#1266dc" xml:space="preserve">W40CU-D    40               -12.3   -103.1  2Edge   55.2</text><text x="744.22" y="388.00" fill="#d02050" text-anchor="end">340°</text><text x="791.49" y="388.00" fill="#d02050" text-anchor="end">(345°)</text><text x="309.5" y="388.00" fill="#ffffff" text-anchor="middle" font-size="11">a</text><text x="316.5" y="388.00" fill="#ffffff" text-anchor="middle" font-size="11">c</text><text x="325.60" y="399.00" fill="#1266dc" xml:space="preserve">WWDT-CD    43               -15.4   -106.3  2Edge   55.1</text><text x="744.22" y="399.00" fill="#109044" text-anchor="end">137°</text><text x="791.49" y="399.00" fill="#109044" text-anchor="end">(142°)</text><text x="309.5" y="399.00" fill="#ffffff" text-anchor="middle" font-size="11">a</text><text x="316.5" y="399.00" fill="#ffffff" text-anchor="middle" font-size="11">c</text><text x="325.60" y="410.00" fill="#1266dc" xml:space="preserve">W36CO      36 (36.1)        -16.2   -107.1  2Edge   52.3</text><text x="744.22" y="410.00" fill="#d03020" text-anchor="end">9°</text><text x="791.49" y="410.00" fill="#d03020" text-anchor="end">(13°)</text><text x="309.5" y="410.00" fill="#ffffff" text-anchor="middle" font-size="11">a</text><text x="316.5" y="410.00" fill="#ffffff" text-anchor="middle" font-size="11">c</text><text x="325.60" y="421.00" fill="#1266dc" xml:space="preserve">WKCF-DT    17 (18.1)   CW   -16.4   -107.2  Tropo  132.7</text><text x="744.22" y="421.00" fill="#d07020" text-anchor="end">39°</text><text x="791.49" y="421.00" fill="#d07020" text-anchor="end">(44°)</text><text x="309.5" y="421.00" fill="#ffffff" text-anchor="middle" font-size="11">a</text><text x="316.5" y="421.00" fill="#ffffff" text-anchor="middle" font-size="11">c</text><text x="325.60" y="432.00" fill="#1266dc" xml:space="preserve">WSPF-CA    38 (35.1)        -17.3   -108.1  2Edge   51.5</text><text x="744.22" y="432.00" fill="#d02048" text-anchor="end">349°</text><text x="791.49" y="432.00" fill="#d02048" text-anchor="end">(354°)</text><text x="309.5" y="432.00" fill="#ffffff" text-anchor="middle" font-size="11">a</text><text x="316.5" y="432.00" fill="#ffffff" text-anchor="middle" font-size="11">c</text><text x="325.60" y="444.00" fill="#1266dc" xml:space="preserve">WOFL       22 (35.1)  Fox   -19.0   -109.9  Tropo  133.4</text><text x="744.22" y="444.00" fill="#d07020" text-anchor="end">39°</text><text x="791.49" y="444.00" fill="#d07020" text-anchor="end">(43°)</text><text x="309.5" y="444.00" fill="#ffffff" text-anchor="middle" font-size="11">a</text><text x="316.5" y="444.00" fill="#ffffff" text-anchor="middle" font-size="11">c</text><text x="325.60" y="455.00" fill="#1266dc" xml:space="preserve">WMFE-DT    23 (24.1)  PBS   -19.2   -110.1  Tropo  133.1</text><text x="744.22" y="455.00" fill="#d06d20" text-anchor="end">38°</text><text x="791.49" y="455.00" fill="#d06d20" text-anchor="end">(43°)</text><text x="309.5" y="455.00" fill="#ffffff" text-anchor="middle" font-size="11">a</text><text x="316.5" y="455.00" fill="#ffffff" text-anchor="middle" font-size="11">c</text><text x="325.60" y="466.00" fill="#1266dc" xml:space="preserve">WRBW-DT    41 (65.1)  MyN   -19.7   -110.5  Tropo  134.8</text><text x="744.22" y="466.00" fill="#d07020" text-anchor="end">39°</text><text x="791.49" y="466.00" fill="#d07020" text-anchor="end">(44°)</text><text x="309.5" y="466.00" fill="#ffffff" text-anchor="middle" font-size="11">a</text><text x="316.5" y="466.00" fill="#ffffff" text-anchor="middle" font-size="11">c</text><text x="325.60" y="477.00" fill="#1266dc" xml:space="preserve">WRMD-CD    49               -20.1   -111.0  2Edge   58.7</text><text x="744.22" y="477.00" fill="#d02030" text-anchor="end">360°</text><text x="791.49" y="477.00" fill="#d02030" text-anchor="end">(5°)</text><text x="309.5" y="477.00" fill="#ffffff" text-anchor="middle" font-size="11">a</text><text x="316.5" y="477.00" fill="#ffffff" text-anchor="middle" font-size="11">c</text><text x="325.60" y="488.00" fill="#1266dc" xml:space="preserve">WACX-DT    40 (55.1)  Ind   -20.4   -111.3  Tropo  132.6</text><text x="744.22" y="488.00" fill="#d07020" text-anchor="end">39°</text><text x="791.49" y="488.00" fill="#d07020" text-anchor="end">(44°)</text><text x="309.5" y="488.00" fill="#ffffff" text-anchor="middle" font-size="11">a</text><text x="316.5" y="488.00" fill="#ffffff" text-anchor="middle" font-size="11">c</text><text x="325.60" y="499.00" fill="#1266dc" xml:space="preserve">WTGL-DT    46 (45.1)  Ind   -21.1   -112.0  Tropo  132.7</text><text x="744.22" y="499.00" fill="#d07020" text-anchor="end">39°</text><text x="791.49" y="499.00" fill="#d07020" text-anchor="end">(44°)</text><text x="309.5" y="499.00" fill="#ffffff" text-anchor="middle" font-size="11">a</text><text x="316.5" y="499.00" fill="#ffffff" text-anchor="middle" font-size="11">c</text><text x="325.60" y="511.00" fill="#1266dc" xml:space="preserve">WTVX       34 (34.1)   CW   -21.2   -112.0  Tropo  127.3</text><text x="744.22" y="511.00" fill="#60a020" text-anchor="end">89°</text><text x="791.49" y="511.00" fill="#60a020" text-anchor="end">(94°)</text><text x="309.5" y="511.00" fill="#ffffff" text-anchor="middle" font-size="11">a</text><text x="316.5" y="511.00" fill="#ffffff" text-anchor="middle" font-size="11">c</text><text x="325.60" y="522.00" fill="#1266dc" xml:space="preserve">WPTV-DT    12  (5.1)  NBC   -22.3   -113.1  Tropo  142.8</text><text x="744.22" y="522.00" fill="#30a020" text-anchor="end">104°</text><text x="791.49" y="522.00" fill="#30a020" text-anchor="end">(108°)</text><text x="309.5" y="522.00" fill="#ffffff" text-anchor="middle" font-size="11">a</text><text x="316.5" y="522.00" fill="#ffffff" text-anchor="middle" font-size="11">c</text><text x="325.60" y="533.00" fill="#1266dc" xml:space="preserve">WRDQ       27         Ind   -22.3   -113.2  Tropo  132.8</text><text x="744.22" y="533.00" fill="#cd7020" text-anchor="end">40°</text><text x="791.49" y="533.00" fill="#cd7020" text-anchor="end">(45°)</text><text x="309.5" y="533.00" fill="#ffffff" text-anchor="middle" font-size="11">a</text><text x="316.5" y="533.00" fill="#ffffff" text-anchor="middle" font-size="11">c</text><text x="325.60" y="544.00" fill="#1266dc" xml:space="preserve">WPBF       16 (25.1)  ABC   -22.5   -113.3  Tropo  126.9</text><text x="744.22" y="544.00" fill="#60a020" text-anchor="end">89°</text><text x="791.49" y="544.00" fill="#60a020" text-anchor="end">(94°)</text><text x="309.5" y="544.00" fill="#ffffff" text-anchor="middle" font-size="11">a</text><text x="316.5" y="544.00" fill="#ffffff" text-anchor="middle" font-size="11">c</text><text x="325.60" y="555.00" fill="#1266dc" xml:space="preserve">W22CL      22 (22.1)        -22.6   -113.4  2Edge   68.9</text><text x="744.22" y="555.00" fill="#109040" text-anchor="end">132°</text><text x="791.49" y="555.00" fill="#109040" text-anchor="end">(137°)</text><text x="309.5" y="555.00" fill="#ffffff" text-anchor="middle" font-size="11">a</text><text x="316.5" y="555.00" fill="#ffffff" text-anchor="middle" font-size="11">c</text><text x="325.60" y="567.00" fill="#1266dc" xml:space="preserve">WFLX-DT    28 (29.1)  Fox   -23.2   -114.0  Tropo  141.3</text><text x="744.22" y="567.00" fill="#30a020" text-anchor="end">104°</text><text x="791.49" y="567.00" fill="#30a020" text-anchor="end">(109°)</text><text x="309.5" y="567.00" fill="#ffffff" text-anchor="middle" font-size="11">a</text><text x="316.5" y="567.00" fill="#ffffff" text-anchor="middle" font-size="11">c</text><text x="325.60" y="578.00" fill="#1266dc" xml:space="preserve">WHLV-DT    51 (52.1)        -23.5   -114.3  Tropo  132.7</text><text x="744.22" y="578.00" fill="#d07020" text-anchor="end">39°</text><text x="791.49" y="578.00" fill="#d07020" text-anchor="end">(44°)</text><text x="309.5" y="578.00" fill="#ffffff" text-anchor="middle" font-size="11">a</text><text x="316.5" y="578.00" fill="#ffffff" text-anchor="middle" font-size="11">c</text><text x="325.60" y="589.00" fill="#1266dc" xml:space="preserve">WPEC       13         CBS   -23.6   -114.4  Tropo  143.1</text><text x="744.22" y="589.00" fill="#30a020" text-anchor="end">104°</text><text x="791.49" y="589.00" fill="#30a020" text-anchor="end">(108°)</text><text x="309.5" y="589.00" fill="#ffffff" text-anchor="middle" font-size="11">a</text><text x="316.5" y="589.00" fill="#ffffff" text-anchor="middle" font-size="11">c</text><text x="325.60" y="600.00" fill="#1266dc" xml:space="preserve">WARP-CD    20               -23.8   -114.6  2Edge   54.1</text><text x="744.22" y="600.00" fill="#d02048" text-anchor="end">349°</text><text x="791.49" y="600.00" fill="#d02048" text-anchor="end">(354°)</text><text x="309.5" y="600.00" fill="#ffffff" text-anchor="middle" font-size="11">a</text><text x="316.5" y="600.00" fill="#ffffff" text-anchor="middle" font-size="11">c</text></g>
<rect x="39.2" y="637" width="9.6" height="123" fill="#e6e6e6"/>
<rect x="70.1" y="637" width="31" height="123" fill="#e6e6e6"/>
<line x1="9" y1="645.50" x2="172" y2="645.50" stroke="#7c7c7c" stroke-width="1" stroke-dasharray="1,1"/>
<line x1="216" y1="645.50" x2="792" y2="645.50" stroke="#7c7c7c" stroke-width="1" stroke-dasharray="1,1"/>
<line x1="9" y1="658.50" x2="172" y2="658.50" stroke="#7c7c7c" stroke-width="1" stroke-dasharray="1,1"/>
<line x1="216" y1="658.50" x2="792" y2="658.50" stroke="#7c7c7c" stroke-width="1" stroke-dasharray="1,1"/>
<line x1="9" y1="670.50" x2="172" y2="670.50" stroke="#7c7c7c" stroke-width="1" stroke-dasharray="1,1"/>
<line x1="216" y1="670.50" x2="792" y2="670.50" stroke="#7c7c7c" stroke-width="1" stroke-dasharray="1,1"/>
<line x1="9" y1="683.50" x2="172" y2="683.50" stroke="#7c7c7c" stroke-width="1" stroke-dasharray="1,1"/>
<line x1="216" y1="683.50" x2="792" y2="683.50" stroke="#7c7c7c" stroke-width="1" stroke-dasharray="1,1"/>
<line x1="9" y1="696.50" x2="172" y2="696.50" stroke="#7c7c7c" stroke-width="1" stroke-dasharray="1,1"/>
<line x1="216" y1="696.50" x2="792" y2="696.50" stroke="#7c7c7c" stroke-width="1" stroke-dasharray="1,1"/>
<line x1="9" y1="708.50" x2="172" y2="708.50" stroke="#7c7c7c" stroke-width="1" stroke-dasharray="1,1"/>
<line x1="216" y1="708.50" x2="792" y2="708.50" stroke="#7c7c7c" stroke-width="1" stroke-dasharray="1,1"/>
<line x1="9" y1="721.50" x2="172" y2="721.50" stroke="#7c7c7c" stroke-width="1" stroke-dasharray="1,1"/>
<line x1="216" y1="721.50" x2="792" y2="721.50" stroke="#7c7c7c" stroke-width="1" stroke-dasharray="1,1"/>
<line x1="9" y1="734.50" x2="172" y2="734.50" stroke="#7c7c7c" stroke-width="1" stroke-dasharray="1,1"/>
<line x1="216" y1="734.50" x2="792" y2="734.50" stroke="#7c7c7c" stroke-width="1" stroke-dasharray="1,1"/>
<line x1="9" y1="747.50" x2="172" y2="747.50" stroke="#7c7c7c" stroke-width="1" stroke-dasharray="1,1"/>
<line x1="216" y1="747.50" x2="792" y2="747.50" stroke="#7c7c7c" stroke-width="1" stroke-dasharray="1,1"/>
<g font-family="Liberation Sans, sans-serif" font-weight="bold" font-size="10.4" fill="#000">
<text x="20" y="635.6" textLength="38.5" lengthAdjust="spacingAndGlyphs">VHF Lo</text>
<text x="119" y="635.6" textLength="36.7" lengthAdjust="spacingAndGlyphs">VHF Hi</text>
<text x="492.7" y="635.3" textLength="21.3" lengthAdjust="spacingAndGlyphs">UHF</text>
</g>
<g font-family="Liberation Sans, sans-serif" font-size="10.3" fill="#000" text-anchor="middle">
<text x="193.8" y="635.6">dBm</text>
<text x="194" y="647.70">-10</text>
<text x="194" y="660.40">-20</text>
<text x="194" y="673.10">-30</text>
<text x="194" y="685.80">-40</text>
<text x="194" y="698.50">-50</text>
<text x="194" y="711.20">-60</text>
<text x="194" y="723.90">-70</text>
<text x="194" y="736.60">-80</text>
<text x="194" y="749.30">-90</text>
<text x="194" y="761.4" textLength="33" lengthAdjust="spacingAndGlyphs">Channel</text>
</g>
<g stroke="#000" fill="none"><path d="M7.8,760.3 H173.2" stroke-width="1.6"/><path d="M214.6,760.3 H792.6" stroke-width="1.6"/></g>
<g font-family="Liberation Sans, sans-serif" font-size="8" fill="#111" text-anchor="middle"><rect x="10.3" y="756" width="6.5" height="8" fill="#fff"/><text x="13.6" y="762.3">2</text><rect x="31.0" y="756" width="6.5" height="8" fill="#fff"/><text x="34.2" y="762.3">4</text><rect x="51.6" y="756" width="6.5" height="8" fill="#fff"/><text x="54.8" y="762.3">5</text><rect x="61.8" y="756" width="6.5" height="8" fill="#fff"/><text x="65.1" y="762.3">6</text><rect x="103.0" y="756" width="6.5" height="8" fill="#fff"/><text x="106.3" y="762.3">7</text><rect x="123.7" y="756" width="6.5" height="8" fill="#fff"/><text x="126.9" y="762.3">9</text><rect x="142.2" y="756" width="10.5" height="8" fill="#fff"/><text x="147.5" y="762.3">11</text><rect x="162.8" y="756" width="10.5" height="8" fill="#fff"/><text x="168.1" y="762.3">13</text><rect x="214.2" y="756" width="11" height="8" fill="#fff"/><text x="219.7" y="762.3">14</text><rect x="234.8" y="756" width="11" height="8" fill="#fff"/><text x="240.3" y="762.3">16</text><rect x="265.7" y="756" width="11" height="8" fill="#fff"/><text x="271.2" y="762.3">19</text><rect x="296.6" y="756" width="11" height="8" fill="#fff"/><text x="302.1" y="762.3">22</text><rect x="327.5" y="756" width="11" height="8" fill="#fff"/><text x="333.0" y="762.3">25</text><rect x="358.4" y="756" width="11" height="8" fill="#fff"/><text x="363.9" y="762.3">28</text><rect x="389.3" y="756" width="11" height="8" fill="#fff"/><text x="394.8" y="762.3">31</text><rect x="420.2" y="756" width="11" height="8" fill="#fff"/><text x="425.7" y="762.3">34</text><rect x="451.1" y="756" width="11" height="8" fill="#fff"/><text x="456.6" y="762.3">37</text><rect x="482.0" y="756" width="11" height="8" fill="#fff"/><text x="487.5" y="762.3">40</text><rect x="512.9" y="756" width="11" height="8" fill="#fff"/><text x="518.4" y="762.3">43</text><rect x="543.8" y="756" width="11" height="8" fill="#fff"/><text x="549.3" y="762.3">46</text><rect x="574.7" y="756" width="11" height="8" fill="#fff"/><text x="580.2" y="762.3">49</text><rect x="605.6" y="756" width="11" height="8" fill="#fff"/><text x="611.1" y="762.3">52</text><rect x="636.5" y="756" width="11" height="8" fill="#fff"/><text x="642.0" y="762.3">55</text><rect x="667.4" y="756" width="11" height="8" fill="#fff"/><text x="672.9" y="762.3">58</text><rect x="698.3" y="756" width="11" height="8" fill="#fff"/><text x="703.8" y="762.3">61</text><rect x="729.2" y="756" width="11" height="8" fill="#fff"/><text x="734.7" y="762.3">64</text><rect x="760.1" y="756" width="11" height="8" fill="#fff"/><text x="765.6" y="762.3">67</text><rect x="780.7" y="756" width="11" height="8" fill="#fff"/><text x="786.2" y="762.3">69</text></g>
<g stroke="#000" fill="none">
<path d="M7.8,761 V632.6 H13" stroke-width="1.8"/>
<path d="M64.6,632.6 H110.7" stroke-width="1.8"/>
<path d="M163.2,632.6 H173.2 V761" stroke-width="1.8"/>
<path d="M214.6,761 V632.6 H482.5" stroke-width="1.8"/>
<path d="M524.2,632.6 H792.6 V761" stroke-width="1.8"/>
</g>
<rect x="7.10" y="742.00" width="13" height="6.2" rx="3" fill="#ffff00"/>
<rect x="8.90" y="743.39" width="9.4" height="3.4" rx="0.8" fill="#8000d8"/>
<rect x="48.30" y="695.39" width="13" height="6.2" rx="3" fill="#ffff00"/>
<rect x="50.10" y="696.79" width="9.4" height="3.4" rx="0.8" fill="#8000d8"/>
<rect x="99.80" y="708.72" width="13" height="6.2" rx="3" fill="#ffff00"/>
<rect x="101.60" y="710.12" width="9.4" height="3.4" rx="0.8" fill="#0a56cc"/>
<rect x="120.40" y="705.55" width="13" height="6.2" rx="3" fill="#ffff00"/>
<rect x="122.20" y="706.95" width="9.4" height="3.4" rx="0.8" fill="#0a56cc"/>
<rect x="130.70" y="705.29" width="13" height="6.2" rx="3" fill="#ffff00"/>
<rect x="132.50" y="706.69" width="9.4" height="3.4" rx="0.8" fill="#0a56cc"/>
<rect x="151.30" y="705.67" width="13" height="6.2" rx="3" fill="#ffff00"/>
<rect x="153.10" y="707.07" width="9.4" height="3.4" rx="0.8" fill="#0a56cc"/>
<rect x="161.60" y="710.88" width="13" height="6.2" rx="3" fill="#ffff00"/>
<rect x="163.40" y="712.28" width="9.4" height="3.4" rx="0.8" fill="#0a56cc"/>
<rect x="214.90" y="736.41" width="9.6" height="3.3" rx="1" fill="#8000d8" stroke="#00307a" stroke-width="0.5"/>
<rect x="225.20" y="689.55" width="9.6" height="3.3" rx="1" fill="#0a56cc" stroke="#00307a" stroke-width="0.5"/>
<rect x="245.80" y="715.71" width="9.6" height="3.3" rx="1" fill="#8000d8" stroke="#00307a" stroke-width="0.5"/>
<rect x="256.10" y="726.00" width="9.6" height="3.3" rx="1" fill="#0a56cc" stroke="#00307a" stroke-width="0.5"/>
<rect x="266.40" y="695.26" width="9.6" height="3.3" rx="1" fill="#0a56cc" stroke="#00307a" stroke-width="0.5"/>
<rect x="287.00" y="699.96" width="9.6" height="3.3" rx="1" fill="#0a56cc" stroke="#00307a" stroke-width="0.5"/>
<rect x="317.90" y="697.80" width="9.6" height="3.3" rx="1" fill="#0a56cc" stroke="#00307a" stroke-width="0.5"/>
<rect x="328.20" y="700.85" width="9.6" height="3.3" rx="1" fill="#0a56cc" stroke="#00307a" stroke-width="0.5"/>
<rect x="359.10" y="726.12" width="9.6" height="3.3" rx="1" fill="#0a56cc" stroke="#00307a" stroke-width="0.5"/>
<rect x="369.40" y="700.09" width="9.6" height="3.3" rx="1" fill="#0a56cc" stroke="#00307a" stroke-width="0.5"/>
<rect x="390.00" y="711.14" width="9.6" height="3.3" rx="1" fill="#0a56cc" stroke="#00307a" stroke-width="0.5"/>
<rect x="400.30" y="697.80" width="9.6" height="3.3" rx="1" fill="#0a56cc" stroke="#00307a" stroke-width="0.5"/>
<rect x="410.60" y="687.90" width="9.6" height="3.3" rx="1" fill="#0a56cc" stroke="#00307a" stroke-width="0.5"/>
<rect x="420.90" y="703.14" width="9.6" height="3.3" rx="1" fill="#0a56cc" stroke="#00307a" stroke-width="0.5"/>
<rect x="431.20" y="690.05" width="9.6" height="3.3" rx="1" fill="#0a56cc" stroke="#00307a" stroke-width="0.5"/>
<rect x="472.40" y="692.59" width="9.6" height="3.3" rx="1" fill="#0a56cc" stroke="#00307a" stroke-width="0.5"/>
<rect x="493.00" y="689.04" width="9.6" height="3.3" rx="1" fill="#0a56cc" stroke="#00307a" stroke-width="0.5"/>
<rect x="503.30" y="702.88" width="9.6" height="3.3" rx="1" fill="#0a56cc" stroke="#00307a" stroke-width="0.5"/>
<rect x="523.90" y="701.10" width="9.6" height="3.3" rx="1" fill="#0a56cc" stroke="#00307a" stroke-width="0.5"/>
<rect x="534.20" y="685.99" width="9.6" height="3.3" rx="1" fill="#0a56cc" stroke="#00307a" stroke-width="0.5"/>
<rect x="554.80" y="707.96" width="9.6" height="3.3" rx="1" fill="#0a56cc" stroke="#00307a" stroke-width="0.5"/>
<rect x="565.10" y="691.71" width="9.6" height="3.3" rx="1" fill="#8000d8" stroke="#00307a" stroke-width="0.5"/>
<rect x="585.70" y="696.79" width="9.6" height="3.3" rx="1" fill="#0a56cc" stroke="#00307a" stroke-width="0.5"/>
<rect x="596.00" y="720.03" width="9.6" height="3.3" rx="1" fill="#0a56cc" stroke="#00307a" stroke-width="0.5"/>
<g font-family="Liberation Sans, sans-serif" font-size="9.4"><text transform="translate(17.00,739.10) rotate(-90) scale(1,1.07)" fill="#9614d2">WUVF-LP</text><text transform="translate(58.20,692.49) rotate(-90) scale(1,1.07)" fill="#9614d2">W05CO</text><text transform="translate(109.70,705.82) rotate(-90) scale(1,1.07)" fill="#1464d2">WFLA-DT</text><text transform="translate(130.30,702.65) rotate(-90) scale(1,1.07)" fill="#1464d2">WINK-DT</text><text transform="translate(140.60,702.39) rotate(-90) scale(1,1.07)" fill="#1464d2">WTSP</text><text transform="translate(161.20,702.77) rotate(-90) scale(1,1.07)" fill="#1464d2">WTVT-DT</text><text transform="translate(171.50,707.98) rotate(-90) scale(1,1.07)" fill="#1464d2">WEDU-DT</text><text transform="translate(223.10,732.91) rotate(-90) scale(1,1.07)" fill="#9614d2">WTPH-LP</text><text transform="translate(233.40,686.05) rotate(-90) scale(1,1.07)" fill="#1464d2">WBBH-DT</text><text transform="translate(254.00,712.21) rotate(-90) scale(1,1.07)" fill="#9614d2">W17CK</text><text transform="translate(264.30,722.50) rotate(-90) scale(1,1.07)" fill="#1464d2">WSVT-CD</text><text transform="translate(274.60,691.76) rotate(-90) scale(1,1.07)" fill="#1464d2">WMOR-DT</text><text transform="translate(295.20,696.46) rotate(-90) scale(1,1.07)" fill="#1464d2">WCLF-DT</text><text transform="translate(326.10,694.30) rotate(-90) scale(1,1.07)" fill="#1464d2">WWSB</text><text transform="translate(336.40,697.35) rotate(-90) scale(1,1.07)" fill="#1464d2">WVEA-DT</text><text transform="translate(367.30,722.62) rotate(-90) scale(1,1.07)" fill="#1464d2">WTAM-LD</text><text transform="translate(377.60,696.59) rotate(-90) scale(1,1.07)" fill="#1464d2">WFTS-DT</text><text transform="translate(398.20,707.64) rotate(-90) scale(1,1.07)" fill="#1464d2">WGCU</text><text transform="translate(408.50,694.30) rotate(-90) scale(1,1.07)" fill="#1464d2">WTTA</text><text transform="translate(418.80,684.40) rotate(-90) scale(1,1.07)" fill="#1464d2">WRXY-DT</text><text transform="translate(429.10,699.64) rotate(-90) scale(1,1.07)" fill="#1464d2">WUSF-DT</text><text transform="translate(439.40,686.55) rotate(-90) scale(1,1.07)" fill="#1464d2">WFTX-DT</text><text transform="translate(480.60,689.09) rotate(-90) scale(1,1.07)" fill="#1464d2">WLWN-LD</text><text transform="translate(501.20,685.54) rotate(-90) scale(1,1.07)" fill="#1464d2">WZVN-DT</text><text transform="translate(511.50,699.38) rotate(-90) scale(1,1.07)" fill="#1464d2">WXPX-TV</text><text transform="translate(532.10,697.60) rotate(-90) scale(1,1.07)" fill="#1464d2">WTOG-DT</text><text transform="translate(542.40,682.49) rotate(-90) scale(1,1.07)" fill="#1464d2">WXCW</text><text transform="translate(563.00,704.46) rotate(-90) scale(1,1.07)" fill="#1464d2">WFTT-DT</text><text transform="translate(573.30,688.21) rotate(-90) scale(1,1.07)" fill="#9614d2">WLWN-LP</text><text transform="translate(593.90,693.29) rotate(-90) scale(1,1.07)" fill="#1464d2">W05CO</text><text transform="translate(604.20,716.53) rotate(-90) scale(1,1.07)" fill="#1464d2">WLZE-LD</text></g>
<rect x="346.6" y="617.2" width="7" height="11.3" fill="#c80000"/>
<text x="350.1" y="626.6" font-family="Liberation Mono, monospace" font-size="11" fill="#fff" text-anchor="middle">c</text>
<text x="360.4" y="627.5" font-family="Liberation Sans, sans-serif" font-size="11.5" fill="#000" textLength="123" lengthAdjust="spacingAndGlyphs">= Co-channel warning</text>
<rect x="558" y="617.9" width="6.2" height="10.2" fill="#ff8080"/>
<text x="561.1" y="626.6" font-family="Liberation Mono, monospace" font-size="11" fill="#fff" text-anchor="middle">a</text>
<text x="571.5" y="627.5" font-family="Liberation Sans, sans-serif" font-size="11.5" fill="#000" textLength="156.5" lengthAdjust="spacingAndGlyphs">= Adjacent channel warning</text>
</svg>
</body></html>
